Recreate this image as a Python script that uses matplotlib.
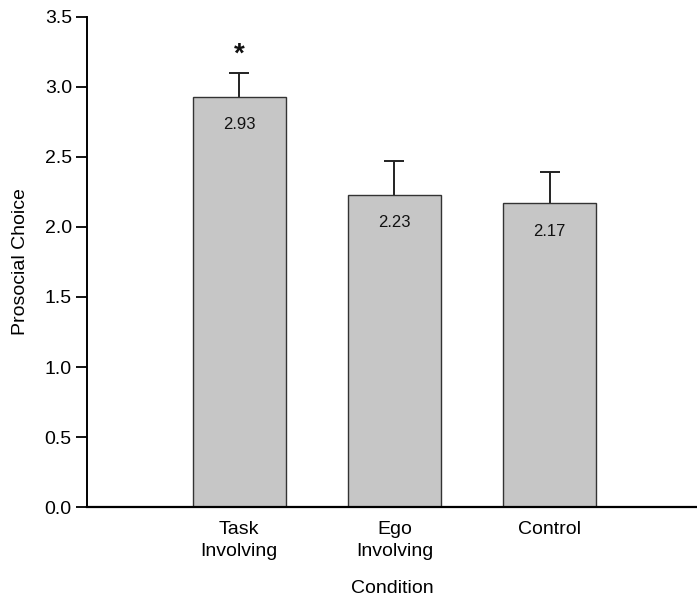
import numpy as np
import matplotlib
matplotlib.use("Agg")
import matplotlib.pyplot as plt

plt.rcParams['font.family'] = ['Liberation Sans', 'DejaVu Sans']

conditions = ['Task\nInvolving', 'Ego\nInvolving', 'Control']
means = [2.93, 2.23, 2.17]
err_up = [0.17, 0.24, 0.22]
value_labels = ['2.93', '2.23', '2.17']
yticks = [0.0, 0.5, 1.0, 1.5, 2.0, 2.5, 3.0, 3.5]

fig = plt.figure(figsize=(6.97, 5.98), dpi=100)
ax = fig.add_axes([0.125, 0.152, 0.875, 0.82])

x = np.arange(len(conditions))
ax.bar(x, means, width=0.6, color='#c6c6c6', edgecolor='#333333', linewidth=1.0, zorder=2)
eb = ax.errorbar(x, means, yerr=[np.zeros(len(means)), err_up], fmt='none',
                 ecolor='#222222', elinewidth=1.4, capsize=7, capthick=1.4, zorder=1)
# only the upper cap is drawn in the original
eb[1][0].set_visible(False)

for xi, m, lab in zip(x, means, value_labels):
    ax.text(xi, m - 0.2, lab, ha='center', va='center', fontsize=12, color='#111111', zorder=3)

# significance marker above task involving
ax.text(x[0], means[0] + err_up[0] + 0.13, '*', ha='center', va='center',
        fontsize=20, fontweight='bold', color='#111111')

ax.set_xlim(-0.98, 2.95)
ax.set_ylim(0, 3.5)
ax.set_yticks(yticks)
ax.set_yticklabels([f'{t:.1f}' for t in yticks], fontsize=14)
ax.set_xticks(x)
ax.set_xticklabels(conditions, fontsize=14, linespacing=1.35)
ax.tick_params(axis='x', length=0, pad=10)
ax.tick_params(axis='y', length=8, width=1.3, direction='out', pad=3)
ax.spines['top'].set_visible(False)
ax.spines['right'].set_visible(False)
ax.spines['left'].set_linewidth(1.4)
ax.spines['bottom'].set_linewidth(1.6)
ax.set_ylabel('Prosocial Choice', fontsize=14, labelpad=11)
ax.set_xlabel('Condition', fontsize=14, labelpad=15)

fig.savefig('out.png', dpi=100)
